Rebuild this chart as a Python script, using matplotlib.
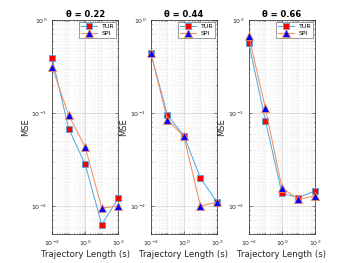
import matplotlib
matplotlib.use("Agg")
import matplotlib.pyplot as plt
import matplotlib.ticker as mticker

# data
lengths = [0.01, 0.1, 1, 10, 100]
thetas = ["0.22", "0.44", "0.66"]
tur = [
    [0.39, 0.068, 0.028, 0.0063, 0.0122],
    [0.44, 0.095, 0.057, 0.020, 0.011],
    [0.56, 0.083, 0.0137, 0.0123, 0.0146],
]
spi = [
    [0.31, 0.095, 0.043, 0.0095, 0.010],
    [0.44, 0.085, 0.056, 0.010, 0.011],
    [0.67, 0.113, 0.0158, 0.0118, 0.0129],
]

c_tur = "#4da6e0"
c_spi = "#f08a5d"

fig = plt.figure(figsize=(3.5, 2.63), dpi=100)
lefts = [0.149, 0.431, 0.711]

for i in range(3):
    ax = fig.add_axes([lefts[i], 0.110, 0.189, 0.814])
    ax.plot(lengths, tur[i], '-s', color=c_tur, lw=0.7, ms=4.8,
            mfc='red', mec=c_tur, mew=0.6, label='TUR', clip_on=False, zorder=3)
    ax.plot(lengths, spi[i], '-^', color=c_spi, lw=0.7, ms=5.5,
            mfc='blue', mec=c_spi, mew=0.6, label='SPI', clip_on=False, zorder=3)
    ax.set_xscale('log')
    ax.set_yscale('log')
    ax.set_xlim(0.01, 100)
    ax.set_ylim(5e-3, 1)
    ax.xaxis.set_major_locator(mticker.FixedLocator([0.01, 1, 100]))
    ax.xaxis.set_minor_locator(mticker.LogLocator(base=10, subs='all', numticks=20))
    ax.xaxis.set_minor_formatter(mticker.NullFormatter())
    ax.yaxis.set_major_locator(mticker.LogLocator(base=10, numticks=10))
    ax.yaxis.set_minor_locator(mticker.LogLocator(base=10, subs='all', numticks=20))
    ax.yaxis.set_minor_formatter(mticker.NullFormatter())
    ax.grid(True, which='major', color='#d0d0d0', lw=0.5)
    ax.grid(True, which='minor', color='#dddddd', lw=0.4, ls=':')
    ax.tick_params(which='both', direction='in', top=True, right=True,
                   labelsize=4.5, colors='#262626', length=2, width=0.4)
    ax.tick_params(which='minor', length=1)
    for s in ax.spines.values():
        s.set_color('#262626')
        s.set_linewidth(0.5)
    ax.set_title('\u03b8 = ' + thetas[i], fontsize=6, fontweight='bold', pad=2)
    ax.set_xlabel('Trajectory Length (s)', fontsize=6.2, labelpad=1, color='#262626')
    ax.set_ylabel('MSE', fontsize=6, labelpad=1, color='#262626')
    leg = ax.legend(loc='upper right', fontsize=4.5, frameon=True, fancybox=False,
                    edgecolor='#262626', borderpad=0.3, handlelength=2.5,
                    labelspacing=0.2, borderaxespad=0.3)
    leg.get_frame().set_linewidth(0.4)
    leg.set_zorder(5)

fig.savefig('out.png', dpi=100)
